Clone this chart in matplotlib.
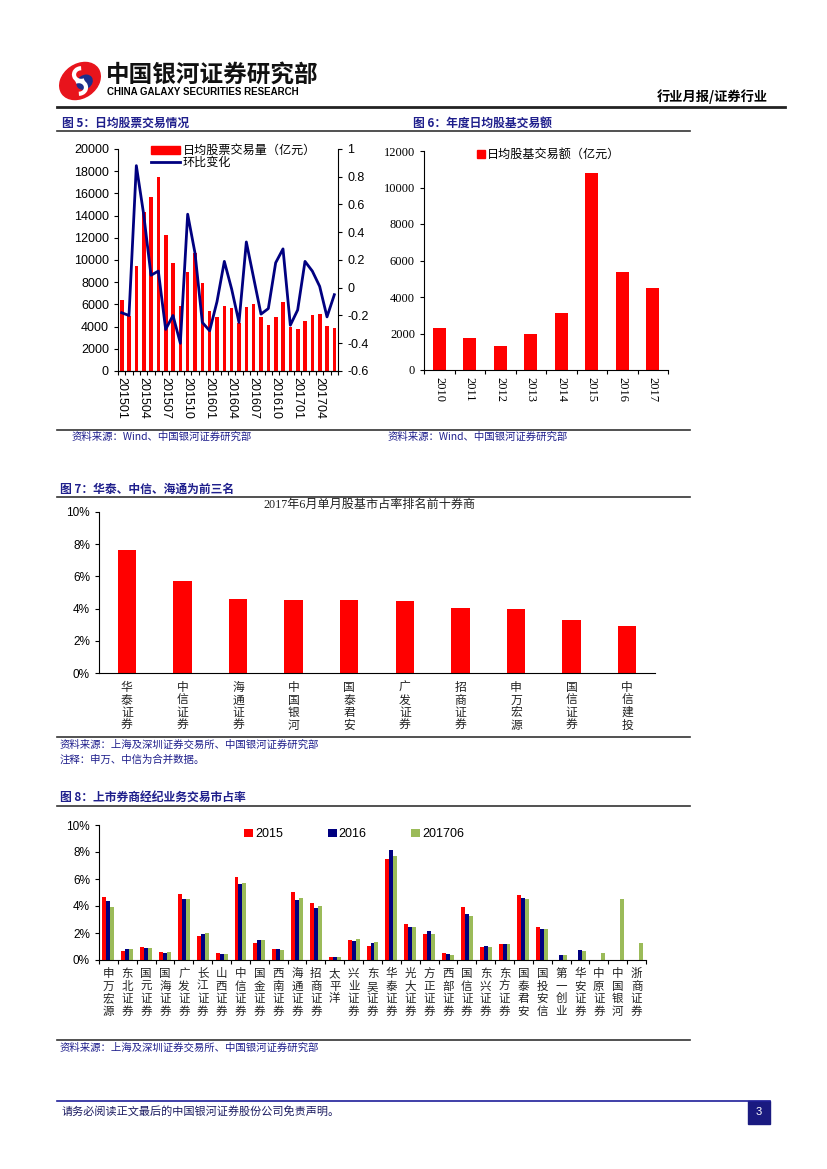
import numpy as np
import matplotlib.pyplot as plt
from matplotlib.patches import Rectangle, Ellipse, Arc, Patch
from matplotlib.lines import Line2D

plt.rcParams['font.family'] = ['Liberation Sans', 'Noto Sans CJK SC']
CJK = ['Noto Sans CJK SC', 'DejaVu Sans']
SERIF = ['Liberation Serif', 'Noto Sans CJK SC']
RED = '#FF0000'
NAVY = '#000080'
GREEN = '#9BBB59'
BLUE_TXT = '#1F1F8C'

# ---- data ----
months = ['2015%02d' % m for m in range(1, 13)] + ['2016%02d' % m for m in range(1, 13)] + \
         ['2017%02d' % m for m in range(1, 7)]
daily_vol = [6380, 4950, 9500, 14350, 15640, 17500, 12240, 9770, 5830, 8900, 10650, 7970,
             5410, 4870, 5830, 5710, 4330, 5770, 6070, 4870, 4150, 4870, 6200, 3970,
             3760, 4480, 5050, 5110, 4060, 3850]
mom_change = [-0.18, -0.20, 0.88, 0.53, 0.09, 0.12, -0.30, -0.20, -0.40, 0.53, 0.25, -0.25,
              -0.31, -0.10, 0.19, -0.01, -0.25, 0.33, 0.07, -0.19, -0.15, 0.18, 0.28, -0.27,
              -0.16, 0.19, 0.12, 0.01, -0.21, -0.05]

years = ['2010', '2011', '2012', '2013', '2014', '2015', '2016', '2017']
annual_vol = [2290, 1750, 1320, 1985, 3115, 10770, 5350, 4470]

top10 = ['华泰证券', '中信证券', '海通证券', '中国银河', '国泰君安', '广发证券', '招商证券',
         '申万宏源', '国信证券', '中信建投']
top10_share = [7.66, 5.72, 4.61, 4.55, 4.51, 4.47, 4.02, 3.98, 3.28, 2.95]

brokers = ['申万宏源', '东北证券', '国元证券', '国海证券', '广发证券', '长江证券', '山西证券',
           '中信证券', '国金证券', '西南证券', '海通证券', '招商证券', '太平洋', '兴业证券',
           '东吴证券', '华泰证券', '光大证券', '方正证券', '西部证券', '国信证券', '东兴证券',
           '东方证券', '国泰君安', '国投安信', '第一创业', '华安证券', '中原证券', '中国银河',
           '浙商证券']
share_2015 = [4.69, 0.69, 0.94, 0.59, 4.86, 1.75, 0.49, 6.17, 1.23, 0.81, 5.01, 4.20, 0.22, 1.46,
              1.06, 7.50, 2.64, 1.95, 0.54, 3.95, 0.96, 1.19, 4.81, 2.44, 0, 0, 0, 0, 0]
share_2016 = [4.35, 0.79, 0.91, 0.54, 4.54, 1.93, 0.47, 5.65, 1.46, 0.84, 4.47, 3.85, 0.25, 1.38,
              1.28, 8.15, 2.47, 2.12, 0.47, 3.41, 1.04, 1.21, 4.62, 2.32, 0.35, 0.72, 0, 0, 0]
share_201706 = [3.95, 0.79, 0.91, 0.59, 4.49, 2.02, 0.42, 5.73, 1.51, 0.77, 4.57, 4.00, 0.20, 1.56,
                1.31, 7.68, 2.42, 1.93, 0.40, 3.26, 0.99, 1.21, 4.49, 2.32, 0.40, 0.69, 0.54, 4.52,
                1.23]

# ---- page helpers (pixel coords of 827x1169 page) ----
W, H = 827, 1169


def box(l, t, r, b):
    return [l / W, 1 - b / H, (r - l) / W, (b - t) / H]


def fx(x):
    return x / W


def fy(y):
    return 1 - y / H


def hline(fig, x0, x1, y, color='#333333', lw=1.2):
    fig.add_artist(Line2D([fx(x0), fx(x1)], [fy(y), fy(y)], color=color, lw=lw))


def vlabels(ax, names, first_pt, step_pt, size):
    for i, name in enumerate(names):
        for k, ch in enumerate(name):
            ax.annotate(ch, xy=(i, 0), xycoords=('data', 'axes fraction'),
                        xytext=(0, -first_pt - k * step_pt), textcoords='offset points',
                        ha='center', va='center', fontsize=size, family=CJK, color='#222222')


fig = plt.figure(figsize=(8.27, 11.69), dpi=100)

# ---- header ----
lax = fig.add_axes(box(57, 58, 103, 104))
lax.set_xlim(-1, 1)
lax.set_ylim(-1, 1)
lax.set_aspect('equal')
lax.axis('off')
lax.add_patch(Ellipse((0, 0), 1.9, 1.45, angle=35, color='#E8141C'))
lax.add_patch(Ellipse((0.2, -0.05), 0.7, 0.55, angle=35, color='#1C2E8C'))
lax.add_patch(Arc((0.05, 0.28), 0.62, 0.55, theta1=90, theta2=300, color='white', lw=3))
lax.add_patch(Arc((-0.05, -0.28), 0.62, 0.55, theta1=-90, theta2=120, color='white', lw=3))

fig.text(fx(106), fy(75), '中国银河证券研究部', fontsize=17, fontweight='bold', family=CJK,
         color='#111111', va='center')
fig.text(fx(107), fy(92), 'CHINA GALAXY SECURITIES RESEARCH', fontsize=7, fontweight='bold',
         family=['Liberation Sans'], va='center')
fig.text(fx(768), fy(97), '行业月报/证券行业', ha='right', va='center', fontsize=9.5,
         fontweight='bold', family=CJK)
hline(fig, 57, 785, 107, color='#222222', lw=2)

# ---- figure titles 5/6 ----
fig.text(fx(62), fy(123), '图 5：日均股票交易情况', fontsize=8.5, fontweight='bold', family=CJK,
         color=BLUE_TXT, va='center')
fig.text(fx(413), fy(123), '图 6：年度日均股基交易额', fontsize=8.5, fontweight='bold', family=CJK,
         color=BLUE_TXT, va='center')
hline(fig, 57, 690, 131)

# ---- chart 5 ----
ax5 = fig.add_axes(box(118, 149, 338, 371))
x = np.arange(len(months))
ax5.bar(x, daily_vol, width=0.5, color=RED)
ax5.set_xlim(-0.5, len(months) - 0.5)
ax5.set_ylim(0, 20000)
ax5.set_yticks(np.arange(0, 20001, 2000))
ax5.tick_params(axis='y', labelsize=9, length=3, direction='out')
ax5.set_xticks(np.arange(-0.5, len(months), 1))
ax5.set_xticklabels([])
ax5.set_xticks(x[::3], minor=True)
ax5.set_xticklabels(months[::3], minor=True, rotation=-90, fontsize=9)
ax5.tick_params(axis='x', which='major', length=3)
ax5.tick_params(axis='x', which='minor', length=0, pad=4)
ax5.spines['top'].set_visible(False)
ax5.spines['right'].set_visible(False)

ax5b = ax5.twinx()
ax5b.plot(x, mom_change, color=NAVY, lw=2)
ax5b.set_ylim(-0.6, 1)
yt = np.round(np.arange(-0.6, 1.01, 0.2), 1)
ax5b.set_yticks(yt)
ax5b.set_yticklabels(['%g' % v for v in yt])
ax5b.tick_params(axis='y', labelsize=9, length=3)
ax5b.spines['top'].set_visible(False)
ax5b.spines['left'].set_visible(False)

fig.legend([Patch(color=RED), Line2D([], [], color=NAVY, lw=2)],
           ['日均股票交易量（亿元）', '环比变化'], loc='upper left',
           bbox_to_anchor=(fx(145), fy(138)), frameon=False, prop={'family': CJK, 'size': 8.7},
           handlelength=2.4, handleheight=0.6, labelspacing=-0.1, borderpad=0, handletextpad=0.2)

# ---- chart 6 ----
ax6 = fig.add_axes(box(424, 151, 668, 370))
xy = np.arange(len(years))
ax6.bar(xy, annual_vol, width=0.42, color=RED)
ax6.set_xlim(-0.5, len(years) - 0.5)
ax6.set_ylim(0, 12000)
ax6.set_yticks(np.arange(0, 12001, 2000))
ax6.set_xticks(np.arange(-0.5, len(years), 1))
ax6.set_xticklabels([])
ax6.set_xticks(xy, minor=True)
ax6.set_xticklabels(years, minor=True, rotation=-90, fontsize=9, family=SERIF)
ax6.tick_params(axis='x', which='major', length=3)
ax6.tick_params(axis='x', which='minor', length=0, pad=5)
ax6.tick_params(axis='y', length=3, labelsize=9)
for t in ax6.get_yticklabels():
    t.set_family(SERIF)
ax6.spines['top'].set_visible(False)
ax6.spines['right'].set_visible(False)
ax6.legend([Line2D([], [], ls='none', marker='s', color=RED, markersize=6)],
           ['日均股基交易额（亿元）'], loc='upper left', bbox_to_anchor=(fx(470), fy(142)),
           bbox_transform=fig.transFigure, frameon=False, prop={'family': CJK, 'size': 8.7},
           handlelength=0.8, handletextpad=0.1, borderpad=0)

fig.text(fx(72), fy(437), '资料来源：Wind、中国银河证券研究部', fontsize=7.5, family=CJK,
         color=BLUE_TXT, va='center')
fig.text(fx(388), fy(437), '资料来源：Wind、中国银河证券研究部', fontsize=7.5, family=CJK,
         color=BLUE_TXT, va='center')
hline(fig, 57, 690, 430)

# ---- chart 7 ----
fig.text(fx(60), fy(489), '图 7：华泰、中信、海通为前三名', fontsize=8.5, fontweight='bold',
         family=CJK, color=BLUE_TXT, va='center')
hline(fig, 57, 690, 497)
ax7 = fig.add_axes(box(99, 512, 655, 673))
x7 = np.arange(len(top10))
ax7.bar(x7, top10_share, width=0.33, color=RED)
ax7.set_xlim(-0.5, len(top10) - 0.5)
ax7.set_ylim(0, 10)
ax7.set_yticks(np.arange(0, 11, 2))
ax7.set_yticklabels(['%d%%' % v for v in range(0, 11, 2)], fontsize=8.5)
ax7.tick_params(axis='y', length=3)
ax7.set_xticks([])
ax7.spines['top'].set_visible(False)
ax7.spines['right'].set_visible(False)
vlabels(ax7, top10, 10.5, 9.0, 8.5)
fig.text(fx(369), fy(505), '2017年6月单月股基市占率排名前十券商', fontsize=8.7, family=SERIF,
         ha='center', va='center', color='#222222')
hline(fig, 57, 690, 737)
fig.text(fx(60), fy(745), '资料来源：上海及深圳证券交易所、中国银河证券研究部', fontsize=7.5,
         family=CJK, color=BLUE_TXT, va='center')
fig.text(fx(60), fy(760), '注释：申万、中信为合并数据。', fontsize=7.5, family=CJK,
         color=BLUE_TXT, va='center')

# ---- chart 8 ----
fig.text(fx(60), fy(797), '图 8：上市券商经纪业务交易市占率', fontsize=8.5, fontweight='bold',
         family=CJK, color=BLUE_TXT, va='center')
hline(fig, 57, 690, 806)
ax8 = fig.add_axes(box(99, 825, 646, 960))
x8 = np.arange(len(brokers))
bw = 0.21
ax8.bar(x8 - bw, share_2015, width=bw, color=RED, label='2015')
ax8.bar(x8, share_2016, width=bw, color=NAVY, label='2016')
ax8.bar(x8 + bw, share_201706, width=bw, color=GREEN, label='201706')
ax8.set_xlim(-0.5, len(brokers) - 0.5)
ax8.set_ylim(0, 10)
ax8.set_yticks(np.arange(0, 11, 2))
ax8.set_yticklabels(['%d%%' % v for v in range(0, 11, 2)], fontsize=8.5)
ax8.tick_params(axis='y', length=3)
ax8.set_xticks(np.arange(-0.5, len(brokers), 1))
ax8.set_xticklabels([])
ax8.tick_params(axis='x', length=3)
ax8.spines['top'].set_visible(False)
ax8.spines['right'].set_visible(False)
vlabels(ax8, brokers, 10.0, 9.0, 8.3)
ax8.legend(loc='upper left', bbox_to_anchor=(fx(238), fy(822)), bbox_transform=fig.transFigure,
           ncol=3, frameon=False, fontsize=9, handlelength=0.7, handleheight=0.7,
           handletextpad=0.15, columnspacing=3.6, borderpad=0)
hline(fig, 57, 690, 1040)
fig.text(fx(60), fy(1048), '资料来源：上海及深圳证券交易所、中国银河证券研究部', fontsize=7.5,
         family=CJK, color=BLUE_TXT, va='center')

# ---- footer ----
hline(fig, 57, 770, 1101, color='#1F1F99', lw=1.2)
fig.add_artist(Rectangle((fx(748), fy(1124)), 22 / W, 23 / H, transform=fig.transFigure,
                         color='#1A1A80'))
fig.text(fx(759), fy(1112), '3', color='white', fontsize=8, ha='center', va='center')
fig.text(fx(62), fy(1112), '请务必阅读正文最后的中国银河证券股份公司免责声明。', fontsize=8,
         family=CJK, color='#1A1A60', va='center')

fig.savefig('out.png', dpi=100)
